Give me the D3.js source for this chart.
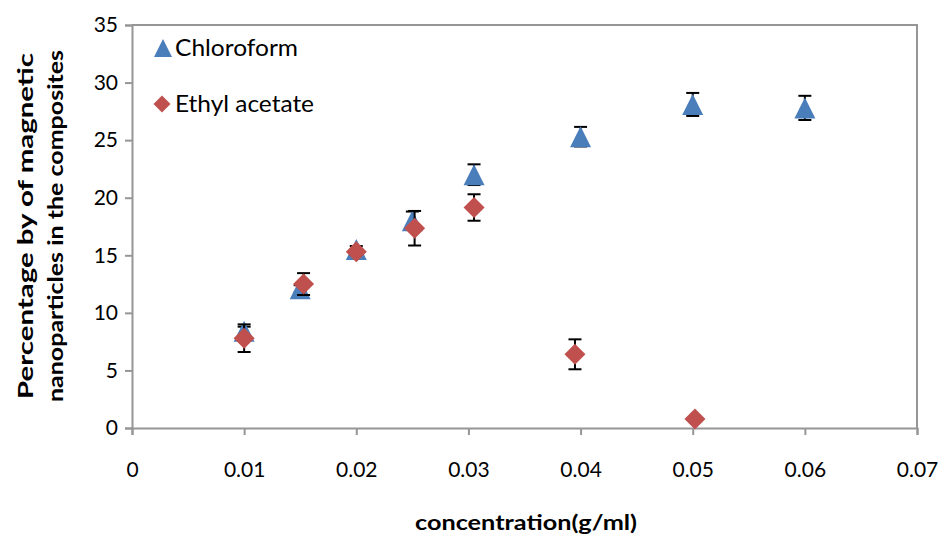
<!DOCTYPE html>
<html>
<head>
<meta charset="utf-8">
<script src="https://cdn.jsdelivr.net/npm/d3@7"></script>
<style>
  html, body { margin: 0; padding: 0; background: #fff; }
  svg { display: block; }
  text { font-family: Lato, "Open Sans", sans-serif; fill: #000; }
</style>
</head>
<body>
<svg id="chart" width="943" height="534"></svg>
<script>
// Chloroform series
const chloroX   = [0.01, 0.015, 0.02, 0.025, 0.0305, 0.04, 0.05, 0.06];
const chloroY   = [8.4, 12.1, 15.5, 18.0, 22.0, 25.3, 28.1, 27.8];
const chloroErr = [0.4, 0.3, 0.3, 0.8, 0.9, 0.85, 1.0, 1.05];

// Ethyl acetate series
const ethylX   = [0.01, 0.0153, 0.02, 0.0252, 0.0305, 0.0395, 0.0502];
const ethylY   = [7.8, 12.5, 15.3, 17.35, 19.15, 6.4, 0.78];
const ethylErr = [1.2, 0.95, 0.25, 1.5, 1.15, 1.3, 0];

const xTicks = [0, 0.01, 0.02, 0.03, 0.04, 0.05, 0.06, 0.07];
const yTicks = [0, 5, 10, 15, 20, 25, 30, 35];
const seriesNames = ["Chloroform", "Ethyl acetate"];

const W = 943, H = 534;
const m = { left: 132, right: 26, top: 25, bottom: 106 };
const svg = d3.select("#chart");

const x = d3.scaleLinear().domain([0, 0.07]).range([m.left, W - m.right]);
const y = d3.scaleLinear().domain([0, 35]).range([H - m.bottom, m.top]);

const axisColor = "#969696";

// plot frame (top and right edges)
svg.append("path")
  .attr("d", `M${x(0)},${y(35)}H${x(0.07)}V${y(0)}`)
  .attr("fill", "none").attr("stroke", axisColor).attr("stroke-width", 2);

// x axis
const gx = svg.append("g")
  .attr("transform", `translate(0,${y(0)})`)
  .call(d3.axisBottom(x).tickValues(xTicks).tickSize(7).tickPadding(27)
        .tickFormat(d => d === 0 ? "0" : d3.format(".2f")(d)));
gx.select(".domain").attr("stroke", axisColor).attr("stroke-width", 2);
gx.selectAll(".tick line").attr("stroke", axisColor).attr("stroke-width", 2);
gx.selectAll(".tick text").attr("font-size", 21).attr("fill", "#000")
  .attr("font-family", "Lato, sans-serif");

// y axis
const gy = svg.append("g")
  .attr("transform", `translate(${x(0)},0)`)
  .call(d3.axisLeft(y).tickValues(yTicks).tickSize(7).tickPadding(7));
gy.select(".domain").attr("stroke", axisColor).attr("stroke-width", 2);
gy.selectAll(".tick line").attr("stroke", axisColor).attr("stroke-width", 2);
gy.selectAll(".tick text").attr("font-size", 21).attr("fill", "#000")
  .attr("font-family", "Lato, sans-serif");

// axis titles
svg.append("text")
  .attr("x", 526).attr("y", 530)
  .attr("text-anchor", "middle")
  .attr("font-size", 21).attr("font-weight", "bold")
  .attr("textLength", 222).attr("lengthAdjust", "spacingAndGlyphs")
  .text("concentration(g/ml)");

const yTitle = svg.append("g").attr("transform", "translate(0,226) rotate(-90)");
yTitle.append("text")
  .attr("x", 0).attr("y", 33)
  .attr("text-anchor", "middle")
  .attr("font-size", 21).attr("font-weight", "bold")
  .attr("textLength", 346).attr("lengthAdjust", "spacingAndGlyphs")
  .text("Percentage by of magnetic");
yTitle.append("text")
  .attr("x", 0).attr("y", 63)
  .attr("text-anchor", "middle")
  .attr("font-size", 21).attr("font-weight", "bold")
  .attr("textLength", 352).attr("lengthAdjust", "spacingAndGlyphs")
  .text("nanoparticles in the composites");

// marker shapes
const blue = "#4a7ebb", red = "#c0504d";
const dia = (s) => `M0,${-s}L${s},0L0,${s}L${-s},0Z`;
const triPath = (h) => `M0,${-h}L${h},${h}L${-h},${h}Z`;

function drawErrors(xs, ys, es) {
  const g = svg.append("g").attr("stroke", "#000").attr("stroke-width", 2);
  xs.forEach((xv, i) => {
    const e = es[i];
    if (!e) return;
    const cx = x(xv), y1 = y(ys[i] + e), y2 = y(ys[i] - e);
    g.append("line").attr("x1", cx).attr("x2", cx).attr("y1", y1).attr("y2", y2);
    g.append("line").attr("x1", cx - 6.5).attr("x2", cx + 6.5).attr("y1", y1).attr("y2", y1);
    g.append("line").attr("x1", cx - 6.5).attr("x2", cx + 6.5).attr("y1", y2).attr("y2", y2);
  });
}

// chloroform: error bars then triangles
drawErrors(chloroX, chloroY, chloroErr);
svg.append("g").selectAll("path")
  .data(chloroX.map((d, i) => [d, chloroY[i]]))
  .join("path")
  .attr("d", triPath(10.5))
  .attr("transform", d => `translate(${x(d[0])},${y(d[1])})`)
  .attr("fill", blue);

// ethyl acetate: error bars then diamonds
drawErrors(ethylX, ethylY, ethylErr);
svg.append("g").selectAll("path")
  .data(ethylX.map((d, i) => [d, ethylY[i]]))
  .join("path")
  .attr("d", dia(10.5))
  .attr("transform", d => `translate(${x(d[0])},${y(d[1])})`)
  .attr("fill", red);

// legend
const leg = svg.append("g");
leg.append("path").attr("d", triPath(9))
  .attr("transform", "translate(163,48)").attr("fill", blue);
leg.append("text").attr("x", 175).attr("y", 56).attr("font-size", 23)
  .attr("textLength", 123).attr("lengthAdjust", "spacingAndGlyphs")
  .text(seriesNames[0]);
leg.append("path").attr("d", dia(8.5))
  .attr("transform", "translate(162,104)").attr("fill", red);
leg.append("text").attr("x", 175).attr("y", 112).attr("font-size", 23)
  .attr("textLength", 139).attr("lengthAdjust", "spacingAndGlyphs")
  .text(seriesNames[1]);
</script>
</body>
</html>
